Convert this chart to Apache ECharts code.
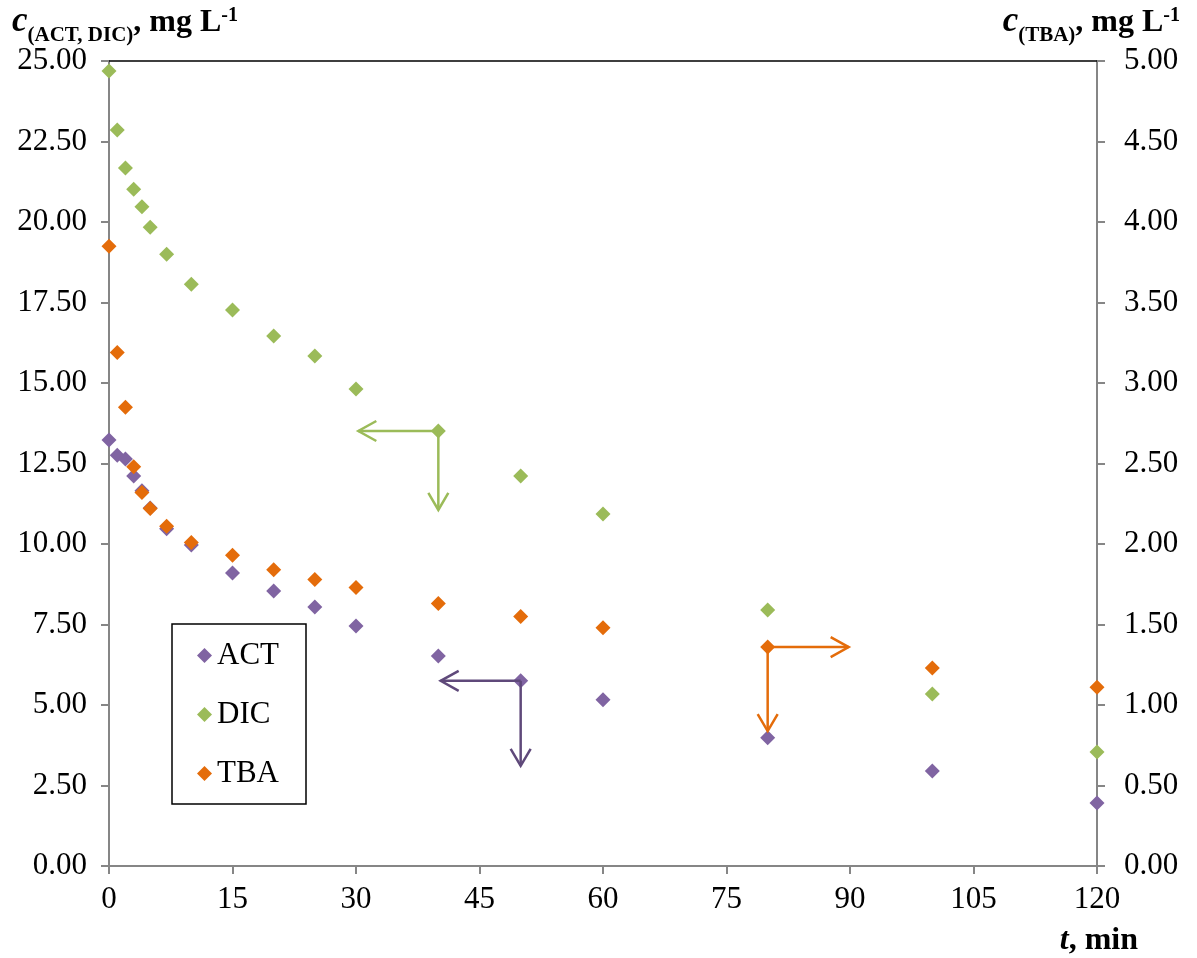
<!DOCTYPE html>
<html><head><meta charset="utf-8">
<script src="https://cdn.jsdelivr.net/npm/echarts@6/dist/echarts.min.js"></script>
<style>html,body{margin:0;padding:0;background:#fff}#c{width:1197px;height:958px}</style>
</head><body><div id="c"></div>
<script>
const times = [0,1,2,3,4,5,7,10,15,20,25,30,40,50,60,80,100,120];
const act = [13.23,12.76,12.64,12.11,11.65,11.12,10.47,9.97,9.10,8.54,8.04,7.45,6.52,5.75,5.16,3.98,2.95,1.96];
const dic = [24.69,22.86,21.68,21.02,20.47,19.84,19.00,18.07,17.27,16.46,15.84,14.81,13.51,12.11,10.93,7.95,5.34,3.54];
const tba = [3.85,3.19,2.85,2.48,2.32,2.22,2.11,2.01,1.93,1.84,1.78,1.73,1.63,1.55,1.48,1.36,1.23,1.11];
const seriesNames = ['ACT','DIC','TBA'];
const colors = ['#8064A2','#9BBB59','#E46C0A'];
const arrowColors = ['#5F497A','#9BBB59','#E46C0A'];
const xTicks = {min:0,max:120,interval:15};
const yLeft = {min:0,max:25,interval:2.5};
const yRight = {min:0,max:5,interval:0.5};

const FONT = '"Liberation Serif","Times New Roman",serif';
const chart = echarts.init(document.getElementById('c'));
const pair = (arr) => times.map((t,i)=>[t,arr[i]]);
const axisGray = '#868686';
const FS = 31;

const option = {
  animation:false,
  backgroundColor:'#fff',
  grid:{left:109,right:100,top:61,bottom:92,containLabel:false},
  xAxis:[{
    type:'value',min:xTicks.min,max:xTicks.max,interval:xTicks.interval,
    axisLine:{show:true,onZero:false,lineStyle:{color:axisGray,width:2}},
    axisTick:{show:true,length:8,lineStyle:{color:axisGray,width:2}},
    splitLine:{show:false},
    axisLabel:{fontFamily:FONT,fontSize:FS,color:'#000',margin:18}
  },{
    type:'value',position:'top',min:xTicks.min,max:xTicks.max,
    axisLine:{show:true,onZero:false,lineStyle:{color:'#000',width:1.5}},
    axisTick:{show:false},axisLabel:{show:false},splitLine:{show:false}
  }],
  yAxis:[{
    type:'value',min:yLeft.min,max:yLeft.max,interval:yLeft.interval,
    axisLine:{show:true,onZero:false,lineStyle:{color:axisGray,width:2}},
    axisTick:{show:true,length:8,lineStyle:{color:axisGray,width:2}},
    splitLine:{show:false},
    axisLabel:{fontFamily:FONT,fontSize:FS,color:'#000',margin:22,formatter:v=>v.toFixed(2)}
  },{
    type:'value',position:'right',min:yRight.min,max:yRight.max,interval:yRight.interval,
    axisLine:{show:true,onZero:false,lineStyle:{color:axisGray,width:2}},
    axisTick:{show:true,length:8,lineStyle:{color:axisGray,width:2}},
    splitLine:{show:false},
    axisLabel:{fontFamily:FONT,fontSize:FS,color:'#000',margin:27,formatter:v=>v.toFixed(2)}
  }],
  legend:{
    orient:'vertical',left:172,top:624,
    data:seriesNames,
    icon:'diamond',itemWidth:15,itemHeight:15,itemGap:28,itemTextGap:9,
    padding:[16,27,15,25],
    borderColor:'#000',borderWidth:1.5,
    textStyle:{fontFamily:FONT,fontSize:FS,color:'#000'}
  },
  series:[
    {name:seriesNames[0],type:'scatter',xAxisIndex:0,yAxisIndex:0,data:pair(act),symbol:'diamond',symbolSize:15,itemStyle:{color:colors[0],opacity:1}},
    {name:seriesNames[1],type:'scatter',xAxisIndex:0,yAxisIndex:0,data:pair(dic),symbol:'diamond',symbolSize:15,itemStyle:{color:colors[1],opacity:1}},
    {name:seriesNames[2],type:'scatter',xAxisIndex:0,yAxisIndex:1,data:pair(tba),symbol:'diamond',symbolSize:15,itemStyle:{color:colors[2],opacity:1}}
  ]
};
chart.setOption(option);

const mc = document.createElement('canvas').getContext('2d');
function measure(txt, p){ mc.font = `${p.style||'normal'} ${p.weight||'bold'} ${p.size}px "Liberation Serif"`; return mc.measureText(txt).width; }
function seq(x, yBottom, parts, alignRight){
  const widths = parts.map(p=>measure(p.t, p));
  const total = widths.reduce((a,b)=>a+b,0);
  let cx = alignRight ? x - total : x;
  const els = [];
  parts.forEach((p,i)=>{
    els.push({type:'text',x:cx,y:yBottom+(p.dy||0),silent:true,
      style:{text:p.t,fontFamily:FONT,fontSize:p.size,fontWeight:p.weight||'bold',fontStyle:p.style||'normal',fill:'#000',verticalAlign:'bottom',align:'left'}});
    cx += widths[i];
  });
  return els;
}
const g = [];
g.push(...seq(12, 39, [
  {t:'c',size:35,style:'italic'},
  {t:'(ACT, DIC)',size:21,dy:7},
  {t:', mg L',size:32},
  {t:'-1',size:20,dy:-13}
]));
g.push(...seq(1180, 39, [
  {t:'c',size:35,style:'italic'},
  {t:'(TBA)',size:21,dy:7},
  {t:', mg L',size:32},
  {t:'-1',size:20,dy:-13}
], true));
g.push(...seq(1138, 957, [
  {t:'t',size:32,style:'italic'},
  {t:', min',size:32}
], true));

function arrow(p, dir, len, color){
  const [x,y]=p; let tx=x, ty=y, w1, w2;
  if(dir==='left'){tx=x-len; w1=[tx+18,ty-10]; w2=[tx+18,ty+10];}
  if(dir==='right'){tx=x+len; w1=[tx-18,ty-10]; w2=[tx-18,ty+10];}
  if(dir==='down'){ty=y+len; w1=[tx-10,ty-17]; w2=[tx+10,ty-17];}
  const ls={stroke:color,lineWidth:2.5,fill:null};
  return [
    {type:'polyline',silent:true,shape:{points:[[x,y],[tx,ty]]},style:ls,z:50},
    {type:'polyline',silent:true,shape:{points:[w1,[tx,ty],w2]},style:ls,z:50}
  ];
}
const pD = chart.convertToPixel({xAxisIndex:0,yAxisIndex:0},[times[12],dic[12]]);
const pA = chart.convertToPixel({xAxisIndex:0,yAxisIndex:0},[times[13],act[13]]);
const pT = chart.convertToPixel({xAxisIndex:0,yAxisIndex:1},[times[15],tba[15]]);
g.push(...arrow(pD,'left',80,arrowColors[1]), ...arrow(pD,'down',79,arrowColors[1]));
g.push(...arrow(pA,'left',80,arrowColors[0]), ...arrow(pA,'down',85,arrowColors[0]));
g.push(...arrow(pT,'right',81,arrowColors[2]), ...arrow(pT,'down',84,arrowColors[2]));
chart.setOption({graphic:g});
</script></body></html>
